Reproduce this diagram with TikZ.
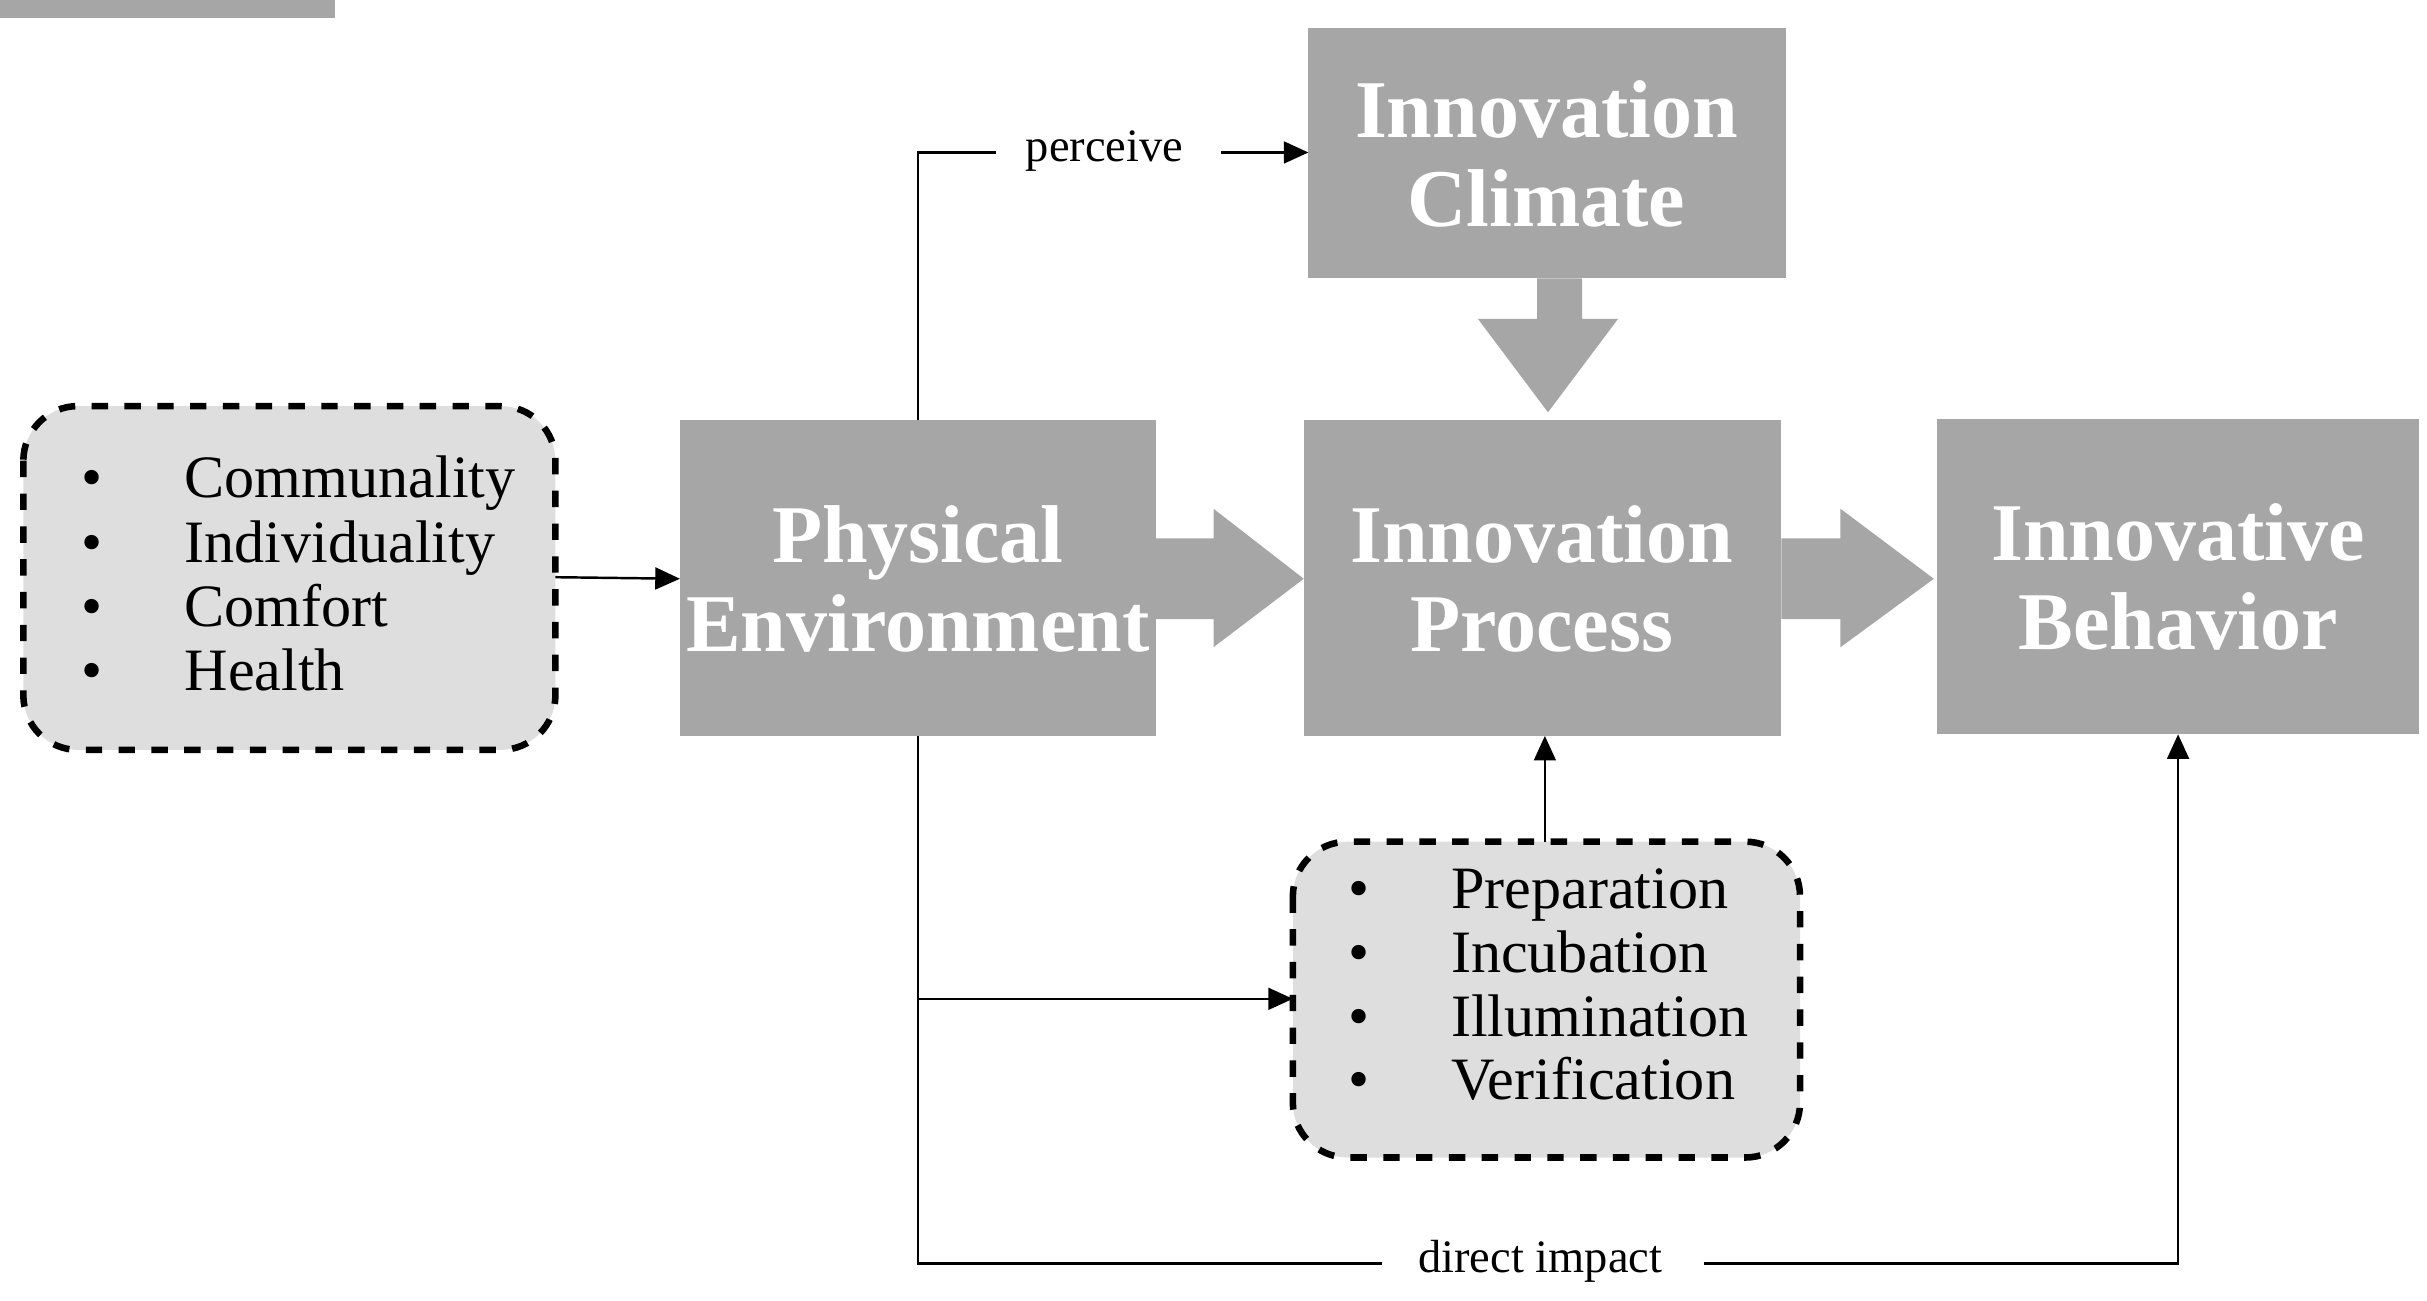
\documentclass[tikz,border=0pt]{standalone}
\usepackage{fontspec}
\setmainfont{Liberation Serif}
\usetikzlibrary{arrows.meta}
\definecolor{boxgray}{HTML}{A6A6A6}
\definecolor{lightgray2}{HTML}{DEDEDE}
\tikzset{
  bigbox/.style={fill=boxgray,draw=none},
  dashbox/.style={fill=lightgray2,draw=black,dashed,line width=1.2pt,rounded corners=10pt},
  title/.style={text=white,font=\fontsize{15}{16.2}\selectfont\bfseries,align=center},
  item/.style={anchor=base west,font=\fontsize{11}{13}\selectfont,inner sep=0pt},
  lbl/.style={font=\fontsize{8.5}{10}\selectfont,inner sep=0pt},
  conn/.style={line width=0.45pt,-{Triangle[length=4.5pt,width=4pt]}},
  plain/.style={line width=0.45pt}
}
\begin{document}
\begin{tikzpicture}[x=0.1mm,y=-0.1mm]
\useasboundingbox (0,0) rectangle (1560,836);
% boxes
\node[bigbox,minimum width=306\pgflinewidth] at (0,0) {}; 
\fill[boxgray] (437,270) rectangle (743,473);
\fill[boxgray] (838,270) rectangle (1145,473);
\fill[boxgray] (1245,269) rectangle (1555,472);
\fill[boxgray] (841,18) rectangle (1148,179);
\node[title] (pe) at (590,372) {Physical\\Environment};
\node[title] (ip) at (991,372) {Innovation\\Process};
\node[title] (ib) at (1400,371) {Innovative\\Behavior};
\node[title] (ic) at (994,99) {Innovation\\Climate};
\coordinate (peT) at (590,270); \coordinate (peB) at (590,473);
\coordinate (ipB) at (993,473); \coordinate (ibB) at (1400,472);
\coordinate (icL) at (841,98); \coordinate (peL) at (437,372);
% big arrows
\fill[boxgray] (743,346) -- (780,346) -- (780,327) -- (838,372) -- (780,416) -- (780,398) -- (743,398) -- cycle;
\fill[boxgray] (1145,346) -- (1183,346) -- (1183,327) -- (1243,372) -- (1183,416) -- (1183,398) -- (1145,398) -- cycle;
\fill[boxgray] (988,179) -- (1017,179) -- (1017,205) -- (1040,205) -- (995,265) -- (950,205) -- (988,205) -- cycle;
% dashed boxes
\draw[dashbox] (15,261) rectangle (357,482);
\draw[dashbox] (831,541) rectangle (1157,744);
\coordinate (lbR) at (357,371); \coordinate (bbL) at (831,642); \coordinate (bbT) at (993,541);
\foreach \t [count=\i] in {Communality,Individuality,Comfort,Health}{
  \node[item] at (52,{310+41.3*(\i-1)+10}) {\textbullet};
  \node[item] (l\i) at (118,{310+41.3*(\i-1)+10}) {\t};
}
\foreach \t [count=\i] in {Preparation,Incubation,Illumination,Verification}{
  \node[item] at (866,{574+41*(\i-1)+10}) {\textbullet};
  \node[item] (b\i) at (932,{574+41*(\i-1)+10}) {\t};
}
% connectors
\draw[conn] (lbR) -- (peL);
\node[lbl] (perc) at (710,97) {perceive};
\draw[plain] (peT) |- (640,98);
\draw[conn] (785,98) -- (icL);
\node[lbl] (dir) at (990,811) {direct impact};
\draw[plain] (peB) |- (888,812);
\draw[conn] (1095,812) -| (ibB);
\draw[conn] (590,642) -- (bbL);
\draw[conn] (bbT) -- (ipB);
\end{tikzpicture}
\end{document}
